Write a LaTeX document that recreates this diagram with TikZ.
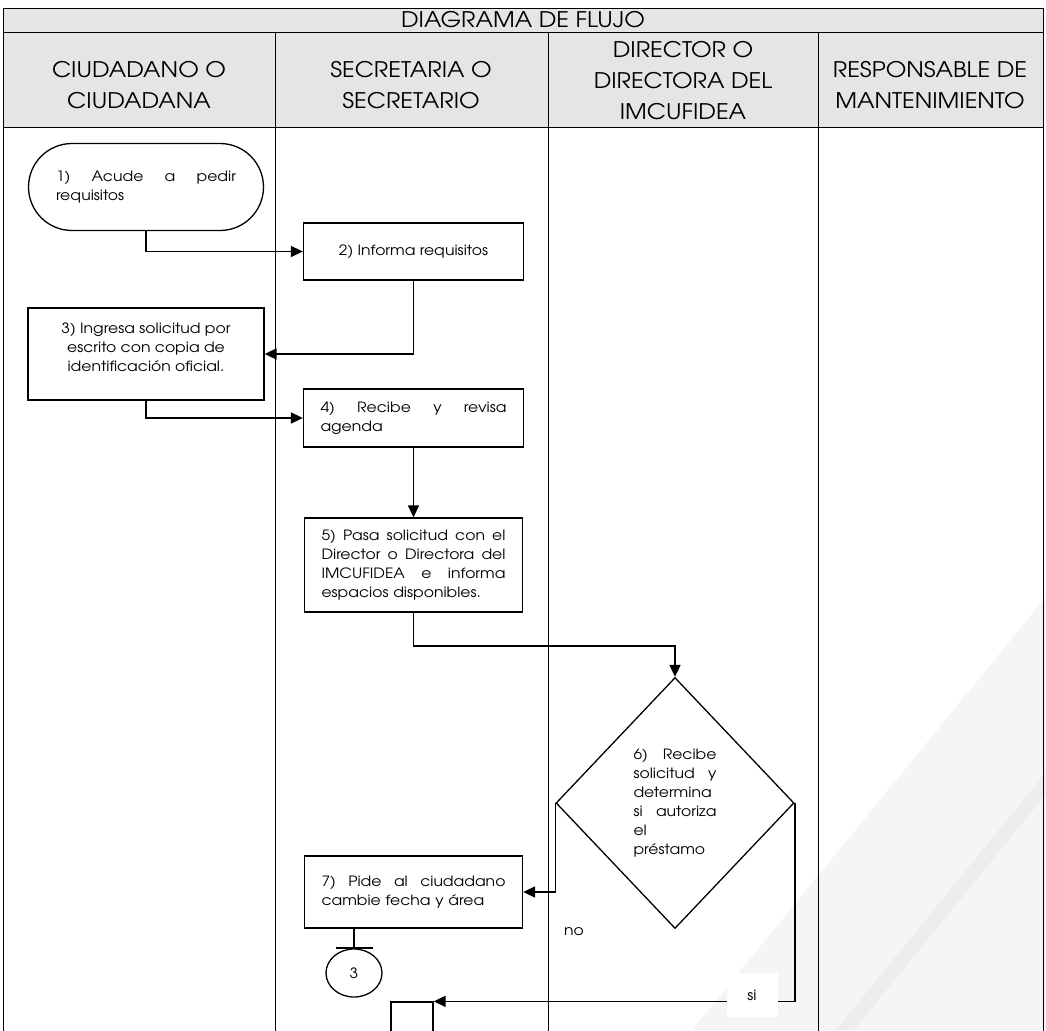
\documentclass[tikz,border=0pt]{standalone}
\usepackage{fontspec}
\setmainfont{TeX Gyre Adventor}[FakeStretch=1.1]
\usetikzlibrary{arrows.meta,shapes.misc,shapes.geometric}

\newcommand\bodyfont{\fontsize{14.2}{19}\selectfont}
\newcommand\headfont{\fontsize{21.5}{31}\selectfont}
% a line spread over the full column width (words separated by \hfill)
\newcommand\jline[2]{\makebox[#1]{#2}}

\tikzset{
  lane/.style={line width=0.9pt, draw=black},
  headcell/.style={font=\headfont, align=center, inner sep=0pt},
  stepbox/.style={draw, line width=1.3pt, rectangle, inner sep=0pt, font=\bodyfont, fill=white},
  flow/.style={line width=1.7pt, -{Triangle[length=12pt,width=11pt]}},
  tag/.style={font=\bodyfont, inner sep=0pt},
}

\begin{document}
\begin{tikzpicture}[x=1pt,y=-1pt]
  \clip (0,0) rectangle (1046,1030);
  \fill[white] (0,0) rectangle (1046,1030);

  % faint background band in the lower right
  \fill[black!4] (1046,597) -- (692,1030) -- (1046,1030) -- cycle;
  \fill[black!7] (1046,772) -- (836,1030) -- (854,1030) -- (1046,794) -- cycle;

  % table frame and lanes
  \fill[black!10] (3,8) rectangle (1043,127);
  \draw[lane] (3,8) rectangle (1043,1040);
  \draw[lane] (3,32) -- (1043,32);
  \draw[lane] (3,127) -- (1043,127);
  \draw[lane] (275,32) -- (275,1040);
  \draw[lane] (548,32) -- (548,1040);
  \draw[lane] (818,32) -- (818,1040);

  \node[headcell] (title) at (523,20) {DIAGRAMA DE FLUJO};
  \node[headcell] (hA) at (139,85) {CIUDADANO O\\CIUDADANA};
  \node[headcell] (hB) at (411,85) {SECRETARIA O\\SECRETARIO};
  \node[headcell] (hC) at (683,81) {DIRECTOR O\\DIRECTORA DEL\\IMCUFIDEA};
  \node[headcell] (hD) at (930,85) {RESPONSABLE DE\\MANTENIMIENTO};

  % steps
  \node[stepbox, rounded rectangle, minimum width=235, minimum height=87,
        text width=180, align=left] (n1) at (146,187)
        {\jline{180pt}{1)\hfill Acude\hfill a\hfill pedir}\\requisitos};
  \node[stepbox, minimum width=220, minimum height=57, align=center] (n2) at (413.5,251.5)
        {2) Informa requisitos};
  \node[stepbox, minimum width=236, minimum height=92, align=center] (n3) at (146,354)
        {3) Ingresa solicitud por\\escrito con copia de\\identificación oficial.\\[-5pt]\mbox{}};
  \node[stepbox, minimum width=220, minimum height=58, text width=186, align=left] (n4) at (413.5,418)
        {\jline{186pt}{4)\hfill Recibe\hfill y\hfill revisa}\\agenda};
  \node[stepbox, minimum width=218, minimum height=94, text width=184, align=left] (n5) at (413.5,565)
        {\jline{184pt}{5)\hfill Pasa\hfill solicitud\hfill con\hfill el}\\
         \jline{184pt}{Director\hfill o\hfill Directora\hfill del}\\
         \jline{184pt}{IMCUFIDEA\hfill e\hfill informa}\\
         espacios disponibles.};
  \node[stepbox, diamond, aspect=0.95, minimum width=238, minimum height=251,
        text width=83, align=left, fill=none] (n6) at (675,803)
        {\jline{83pt}{6)\hfill Recibe}\\
         \jline{83pt}{solicitud\hfill y}\\
         determina\\
         \jline{83pt}{si\hfill autoriza}\\
         el\\
         préstamo};
  \node[stepbox, minimum width=218, minimum height=72, text width=184, align=left] (n7) at (413.5,892)
        {\jline{184pt}{7)\hfill Pide\hfill al\hfill ciudadano}\\cambie fecha y área};
  \node[stepbox, ellipse, minimum width=56, minimum height=48] (c3) at (354,973) {3};
  \node[stepbox, minimum width=42, minimum height=56] (n8) at (412,1030) {};

  % off-page connector bar
  \coordinate (bar) at (354,948);
  \draw[line width=1.3pt] (n7.south -| c3.north) -- (bar);
  \draw[line width=1.3pt] ([xshift=-18.5pt]bar) -- ([xshift=18.5pt]bar);

  % connectors
  \draw[flow] (n1.south) |- (n2.west);
  \draw[flow] (n2.south) |- (n3.east);
  \draw[flow] (n3.south) |- (n4.west);
  \draw[flow] (n4.south) -- (n5.north);
  \draw[flow] (n5.south) -- ++(0,33) -| (n6.north);
  \draw[flow] (n6.west) |- (n7.east);
  \draw[flow] (n6.east) |- (n8.north east);

  % branch labels
  \node[tag] (lno) at (574,932) {no};
  \node[tag, fill=white, minimum width=51, minimum height=44] (lsi) at (752,995) {si};
\end{tikzpicture}
\end{document}
